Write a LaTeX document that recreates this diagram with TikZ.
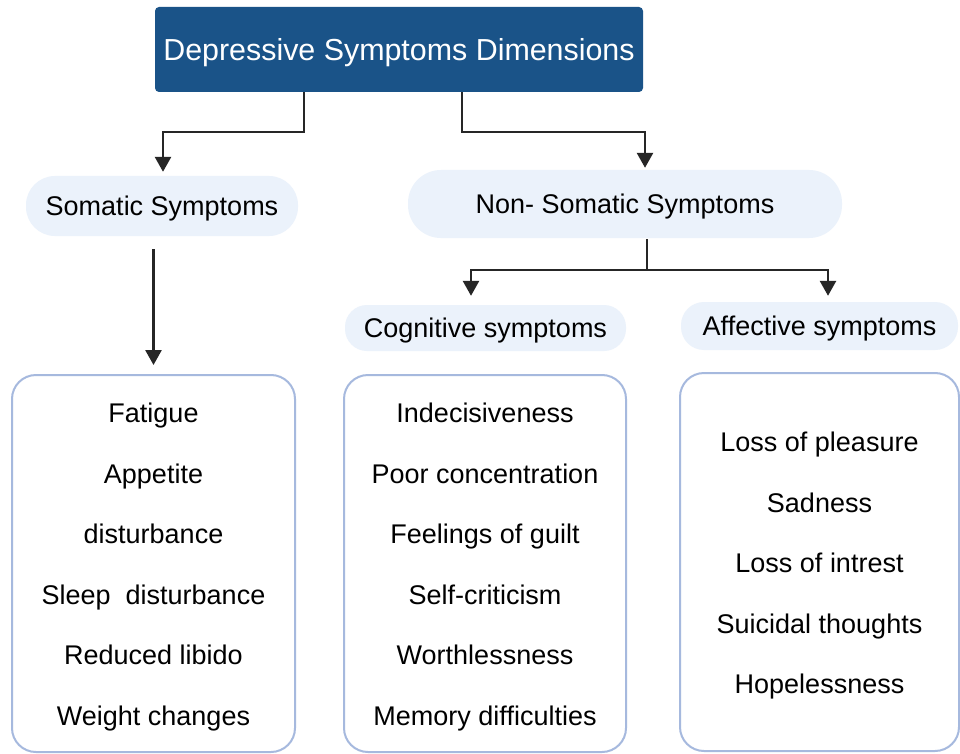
\documentclass[tikz,border=0pt]{standalone}
\usepackage{fontspec}
\setmainfont{Liberation Sans}
\usetikzlibrary{arrows.meta}
\definecolor{titleblue}{HTML}{1A5388}
\definecolor{pillfill}{HTML}{EBF2FB}
\definecolor{boxline}{HTML}{A6B9DE}
\definecolor{arrowc}{HTML}{262626}
\newcommand{\toprule}{\rule{0pt}{28pt}}
\newcommand{\botrule}{\rule[-6.6pt]{0pt}{6.6pt}}
\begin{document}
\begin{tikzpicture}[x=1pt,y=-1pt,
  titlebox/.style={draw=none,fill=titleblue,text=white,rounded corners=4pt,
    minimum width=488pt,minimum height=85pt,inner sep=0pt,
    text height=21.8pt,text depth=0pt,
    font=\fontsize{30.4}{36}\selectfont},
  pill/.style={draw=none,fill=pillfill,inner sep=0pt,
    text height=19.3pt,text depth=0pt,
    font=\fontsize{27}{32}\selectfont},
  listbox/.style={draw=boxline,line width=2pt,rounded corners=24pt,fill=white,
    inner sep=0pt,align=center,font=\fontsize{27}{60.5}\selectfont},
  arr/.style={draw=arrowc,line width=2.7pt,-{Triangle[width=16pt,length=15pt]}}]
\useasboundingbox (0,0) rectangle (960,754);
\fill[white] (0,0) rectangle (960,754);
\node[titlebox] (title) at (399,49.5) {Depressive Symptoms Dimensions};
\node[pill,minimum width=272pt,minimum height=60pt,rounded corners=29pt] (som) at (162,206) {Somatic Symptoms};
\node[pill,minimum width=434pt,minimum height=68pt,rounded corners=33pt] (nonsom) at (625,204) {Non- Somatic Symptoms};
\node[pill,minimum width=281pt,minimum height=46pt,rounded corners=22pt] (cog) at (485.5,328) {Cognitive symptoms};
\node[pill,minimum width=277pt,minimum height=48pt,rounded corners=23pt] (aff) at (819.5,326) {Affective symptoms};
\node[listbox,minimum width=283pt,minimum height=377pt] (lbox) at (153.5,563.5)
  {\toprule Fatigue\\Appetite\\disturbance\\Sleep\ \ disturbance\\Reduced libido\\Weight changes\botrule};
\node[listbox,minimum width=282pt,minimum height=377pt] (mbox) at (485,563.5)
  {\toprule Indecisiveness\\Poor concentration\\Feelings of guilt\\Self-criticism\\Worthlessness\\Memory difficulties\botrule};
\node[listbox,minimum width=279pt,minimum height=378pt] (rbox) at (819.5,562)
  {\toprule Loss of pleasure\\Sadness\\Loss of intrest\\Suicidal thoughts\\Hopelessness\botrule};
\coordinate (jl) at (304,132);
\coordinate (jr) at (462,132);
\coordinate (jn) at (647,270);
\draw[arr] (title.south -| jl) -- (jl) -| ([xshift=1pt,yshift=4pt]som.north);
\draw[arr] (title.south -| jr) -- (jr) -| ([xshift=20pt,yshift=2pt]nonsom.north);
\draw[arr] ([yshift=-13pt]som.south -| lbox.north) -- ([yshift=9pt]lbox.north);
\draw[arr] ([yshift=-1pt]nonsom.south -| jn) -- (jn) -| ([xshift=-14.5pt,yshift=9pt]cog.north);
\draw[arr] (jn) -| ([xshift=8.5pt,yshift=6pt]aff.north);
\end{tikzpicture}
\end{document}
